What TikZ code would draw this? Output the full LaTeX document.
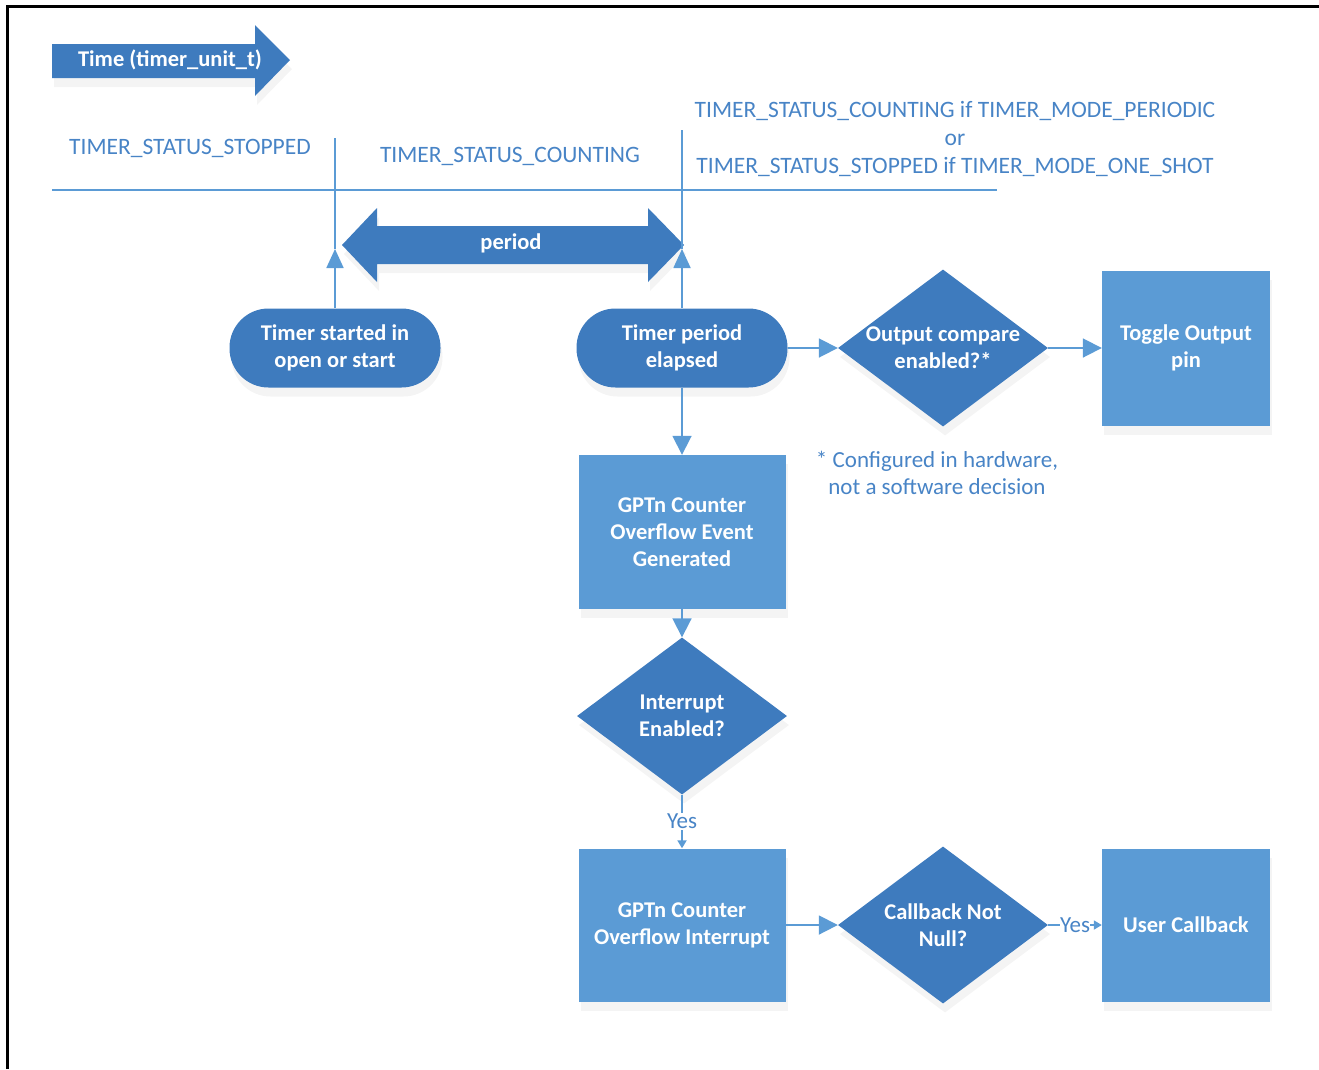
\documentclass[tikz,border=0pt]{standalone}
\usepackage{fontspec}
\setmainfont{Carlito}
\usetikzlibrary{shapes.geometric,arrows.meta,shadows}
\definecolor{darkb}{RGB}{62,123,190}
\definecolor{lightb}{RGB}{91,155,213}
\definecolor{lineb}{RGB}{91,155,213}
\definecolor{labb}{RGB}{72,132,198}
\tikzset{
  softshadow/.style={drop shadow={shadow xshift=2pt,shadow yshift=-9pt,opacity=0.07,fill=black!60}},
  nodetext/.style={text=white,font=\fontsize{22.5}{27}\selectfont\bfseries,align=center},
  term/.style={nodetext,rectangle,rounded corners=39pt,fill=darkb,minimum width=211pt,minimum height=79pt,inner sep=0pt,softshadow},
  decis/.style={nodetext,diamond,fill=darkb,minimum width=210pt,minimum height=157pt,inner sep=-30pt,softshadow},
  procbox/.style={nodetext,rectangle,fill=lightb,inner sep=0pt,softshadow},
  lab/.style={text=labb,font=\fontsize{23.5}{28}\selectfont,align=center,inner sep=0pt},
  conn/.style={draw=lineb,line width=1.8pt,-{Triangle[length=19pt,width=19pt]}},
  smallconn/.style={draw=lineb,line width=1.8pt,-{Triangle[length=8pt,width=9pt]}},
  yeslab/.style={text=labb,font=\fontsize{23}{24}\selectfont,fill=white,inner sep=1pt}
}
\begin{document}
\begin{tikzpicture}[x=1pt,y=-1pt]
\useasboundingbox (0,0) rectangle (1319,1069);
% frame
\draw[black,line width=3pt] (7,1069) -- (7,6) -- (1319,6);
% time arrow
\fill[darkb,softshadow] (52,44) -- (255,44) -- (255,25) -- (290,60) -- (255,96) -- (255,78) -- (52,78) -- cycle;
\node[nodetext] (time) at (170,60) {Time (timer\_unit\_t)};
% status labels
\node[lab] (stopped) at (190,148) {TIMER\_STATUS\_STOPPED};
\node[lab] (counting) at (510,156) {TIMER\_STATUS\_COUNTING};
\node[lab] (after) at (955,139) {TIMER\_STATUS\_COUNTING if TIMER\_MODE\_PERIODIC\\or\\TIMER\_STATUS\_STOPPED if TIMER\_MODE\_ONE\_SHOT};
% timeline
\coordinate (tl0) at (52,190);
\coordinate (tl1) at (997,190);
\draw[lineb,line width=1.8pt] (tl0) -- (tl1);
% period arrow
\fill[darkb,softshadow] (342,245) -- (377,208) -- (377,226) -- (648,226) -- (648,208) -- (684,245) -- (648,282) -- (648,264) -- (377,264) -- (377,282) -- cycle;
\node[nodetext] (period) at (511,243) {period};
% nodes
\node[term] (A) at (335,348) {Timer started in\\open or start};
\node[term] (B) at (682,348) {Timer period\\elapsed};
\node[decis] (C) at (943,348) {Output compare\\enabled?*};
\node[procbox,minimum width=168pt,minimum height=155pt] (D) at (1186,348) {Toggle Output\\pin};
\node[lab,font=\fontsize{23}{27}\selectfont] (note) at (937,473) {* Configured in hardware,\\not a software decision};
\node[procbox,minimum width=207pt,minimum height=154pt] (E) at (682,532) {GPTn Counter\\Overflow Event\\Generated};
\node[decis] (F) at (682,716) {Interrupt\\Enabled?};
\node[procbox,minimum width=207pt,minimum height=153pt] (G) at (682,925) {GPTn Counter\\Overflow Interrupt};
\node[decis] (H) at (943,925) {Callback Not\\Null?};
\node[procbox,minimum width=168pt,minimum height=153pt] (I) at (1186,925) {User Callback};
% timeline ticks
\coordinate (ta) at (335,138);
\coordinate (tb) at (682,130);
\coordinate (ha) at (335,249);
\coordinate (hb) at (682,249);
\draw[lineb,line width=1.8pt] (ta) -- (ha);
\draw[lineb,line width=1.8pt] (tb) -- (hb);
\draw[conn,-{Triangle[length=19pt,width=17pt]}] (A.north) -- (ha);
\draw[conn,-{Triangle[length=19pt,width=17pt]}] (B.north) -- (hb);
% connectors
\draw[conn] (B.east) -- (C.west);
\draw[conn] (C.east) -- (D.west);
\draw[conn] (B.south) -- (E.north);
\draw[conn] (E.south) -- (F.north);
\draw[smallconn] (F.south) -- node[yeslab] (y1) {Yes} (G.north);
\draw[conn] (G.east) -- (H.west);
\draw[smallconn] (H.east) -- node[yeslab,inner xsep=0pt] (y2) {Yes} (I.west);
\end{tikzpicture}
\end{document}
